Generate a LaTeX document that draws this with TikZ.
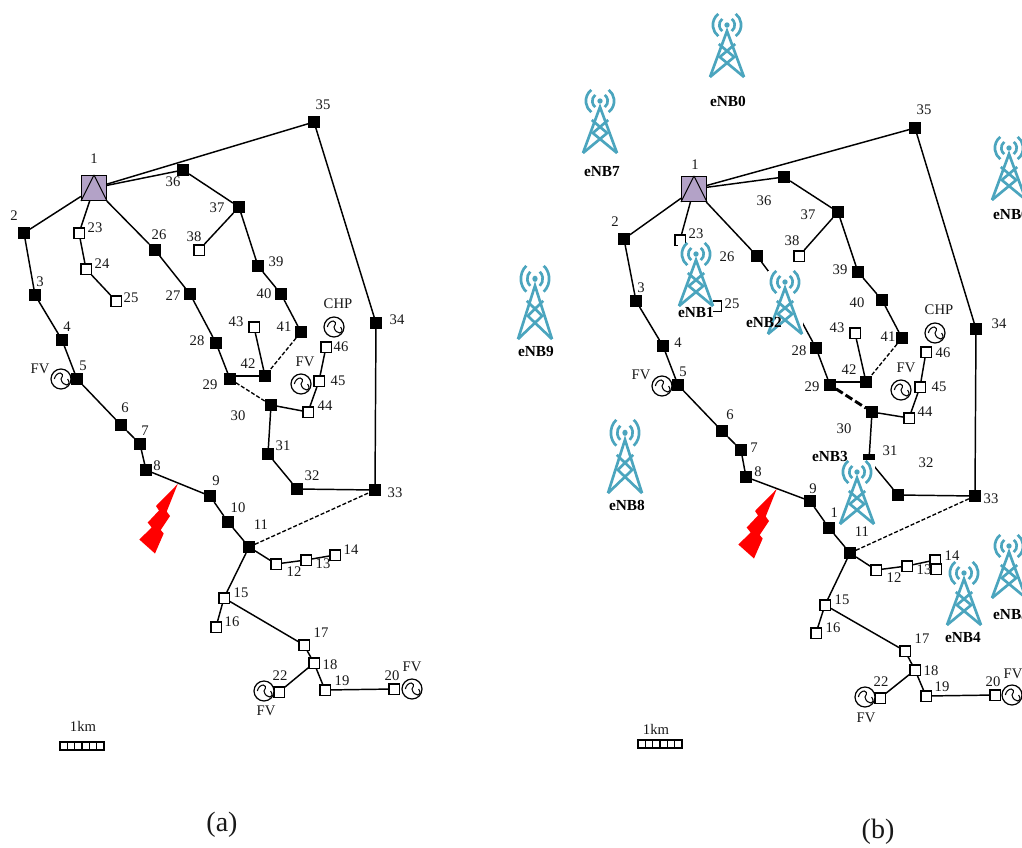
\documentclass[tikz,border=0pt]{standalone}
\usepackage{fontspec}
\setmainfont{Liberation Serif}
\definecolor{towerc}{HTML}{4BA5BE}
\definecolor{subc}{HTML}{B3A2C7}
\tikzset{
  x=0.75pt,y=-0.75pt,
  fbus/.style={rectangle,fill=black,minimum size=8.6pt,inner sep=0pt},
  obus/.style={rectangle,draw=black,line width=1.05pt,fill=white,minimum size=7.8pt,inner sep=0pt},
  subst/.style={rectangle,draw=black,line width=1.05pt,fill=subc,minimum size=18.5pt,inner sep=0pt},
  feeder/.style={line width=1.1pt,black},
  tie/.style={line width=1pt,black,dash pattern=on 3pt off 1.5pt},
  tiethick/.style={line width=2.2pt,black,dash pattern=on 6pt off 2.5pt},
  lbl/.style={inner sep=0pt,font=\fontsize{11}{12}\selectfont,text=black!90},
  enb/.style={inner sep=0pt,font=\fontsize{11.5}{12}\selectfont\bfseries,text=black},
  captxt/.style={inner sep=0pt,font=\fontsize{21}{23}\selectfont,text=black!90},
  gen/.style={circle,draw=black,line width=0.9pt,fill=white,minimum size=15pt,inner sep=0pt,
    path picture={\draw[line width=0.8pt] ([xshift=-5pt]path picture bounding box.center)
      .. controls +(1.2pt,6pt) and +(4pt,6pt) .. (path picture bounding box.center)
      .. controls +(1pt,-6pt) and +(3.8pt,-6pt) .. ([xshift=5pt]path picture bounding box.center);}},
  tower/.pic={
    \begin{scope}[towerc,line width=2pt,line join=miter]
      \fill (0,11) circle (2pt);
      \foreach \r in {5.8pt,10.6pt}{
        \draw ([shift={(-52:\r)}]0,11) arc[start angle=-52,end angle=52,radius=\r];
        \draw ([shift={(128:\r)}]0,11) arc[start angle=128,end angle=232,radius=\r];
      }
      \draw (-17,63) -- (0,17) -- (17,63);
      \draw (-17,63) -- (7.2,43) -- (-8.2,30) (17,63) -- (-7.2,43) -- (8.2,30);
    \end{scope}
  }
}
\newcommand{\feedernet}[1]{%
  \foreach \u/\v in {1/2,2/3,3/4,4/5,5/6,6/7,7/8,8/9,9/10,10/11,11/12,12/13,13/14,11/15,15/16,15/17,17/18,18/19,19/20,18/22,1/23,23/24,24/25,1/26,26/27,27/28,28/29,42/43,1/36,36/37,37/38,37/39,39/40,40/41,1/35,35/34,34/33,33/32,32/31,31/30,30/44,44/45,45/46}
    \draw[feeder] (#1\u) -- (#1\v);
  \draw[feeder] (#142) -- (#142 -| #129);
  \draw[tie] (#141) -- (#142);
  \draw[tie] (#111) -- (#133);
  \draw[black,line width=0.8pt] (#11.north) -- (#11.south west) (#11.north) -- (#11.south east);
}
\newcommand{\bolt}{%
  \fill[red] (177.7,484) -- (156,506) -- (159,510.5) -- (147.7,522.5) -- (151.7,527.5) -- (139.3,539.5) -- (155,553.5) -- (163.7,533.5) -- (160.7,530) -- (170,516) -- (166.7,511.5) -- cycle;
}
\newcommand{\scalebar}{%
  \draw[black,line width=0.85pt] (0,0) rectangle (44,8);
  \foreach \k in {1,...,5} \draw[black,line width=0.85pt] (\k*7.33,0) -- (\k*7.33,8);
}
\begin{document}
\begin{tikzpicture}
\clip (0,0) rectangle (1022,847);
\fill[white] (0,0) rectangle (1022,847);
% ---------- panel (a)
\foreach \n/\x/\y in {2/24/233,3/35/295,4/62/340,5/77/379,6/121/425,7/140/444,8/146/470,9/210/496,10/228/522,11/249/547,26/155/250,27/190/294,28/216/343,29/230/379,30/271/405,31/268/454,32/297/489,33/375/490,34/376/323,35/314/122,36/183/170,37/239/207,39/258/266,40/281/294,41/301/332,42/265/376}
  \node[fbus] (a\n) at (\x,\y) {};
\foreach \n/\x/\y in {12/276/564,13/306/560,14/335/555,15/224/598,16/216/627,17/304/645,18/314/663,19/325/690,20/394/689,22/279/692,23/79/233,24/86/269,25/116/301,38/199/250,43/254/327,44/308/412,45/319/381,46/326/347}
  \node[obus] (a\n) at (\x,\y) {};
\node[subst] (a1) at (94,188) {};
\feedernet{a}
\draw[tie] (a29) -- (a30);
\foreach \x/\y [count=\i] in {61/379,334/327,301/384,264/691,412/689}
  \node[gen] (ag\i) at (\x,\y) {};
\foreach \t/\x/\y [count=\i] in {1/94/159,35/323/105,36/173/182,37/217/208,38/194/237,39/276/262,40/264/294,41/284/327,CHP/338/304,46/341/347,FV/305/362,45/338/381,44/325/406,43/236/322,42/248/364,34/397/320,2/14/216,23/95/228,24/102/264,25/131/298,26/159/235,27/173/296,28/197/341,29/210/385,30/238/416,3/40/282,4/67/327,5/83/366,FV/40/369,6/125/408,7/145/431,8/157/466,9/216/481,10/238/508,11/261/525,31/283/446,32/312/476,33/395/493,14/351/550,13/323/564,12/294/572,15/241/593,16/232/622,17/321/633,18/330/665,19/342/681,20/392/676,FV/412/667,22/280/676,FV/266/711,1km/83/726}
  \node[lbl] (al\i) at (\x,\y) {\t};
\bolt
\begin{scope}[shift={(60,742)}]\scalebar\end{scope}
\node[captxt] (capa) at (222,825) {(a)};
% ---------- panel (b)
\foreach \n/\x/\y in {2/624/239,3/636/301,4/663/346,5/678/385,6/722/431,7/741/450,8/746/477,9/810/501,10/829/528,11/850/553,26/757/256,27/790/300,28/816/348,29/830/385,30/872/412,31/869/460,32/898/495,33/975/496,34/976/329,35/915/128,36/784/177,37/838/212,39/858/272,40/882/300,41/902/338,42/866/382}
  \node[fbus] (b\n) at (\x,\y) {};
\foreach \n/\x/\y in {12/876/570,13/907/566,14/935/560,15/825/605,16/816/633,17/905/651,18/915/670,19/926/696,20/995/695,22/880/698,23/680/240,24/686/275,25/716/306,38/799/256,43/855/333,44/909/418,45/920/387,46/926/352}
  \node[obus] (b\n) at (\x,\y) {};
\node[subst] (b1) at (694,189) {};
\feedernet{b}
\draw[tiethick] (b29) -- (b30);
\foreach \x/\y [count=\i] in {662/386,935/333,901/390,865/697,1012/695}
  \node[gen] (bg\i) at (\x,\y) {};
\foreach \t/\x/\y [count=\i] in {1/695/165,35/924/110,36/764/201,37/808/215,38/792/241,39/840/270,40/857/303,43/837/328,41/888/337,CHP/939/310,46/943/353,FV/906/368,45/939/387,44/925/412,42/849/370,28/799/351,29/812/387,30/844/429,31/890/451,32/926/463,33/991/499,34/999/324,2/615/222,3/641/288,23/696/234,25/732/304,26/727/257,4/678/343,5/683/372,FV/641/375,6/730/415,7/754/448,8/758/472,9/813/489,10/838/513,11/862/532,14/952/556,13/924/570,12/894/578,15/842/600,16/833/628,17/922/639,18/931/671,19/942/687,20/993/682,FV/1013/674,22/881/682,FV/866/718,1km/656/729}
  \node[lbl] (bl\i) at (\x,\y) {\t};
\node[obus] (b14x) at (936,569) {};
\begin{scope}[shift={(599,5)}]\bolt\end{scope}
\begin{scope}[shift={(638,740)}]\scalebar\end{scope}
\node[captxt] (capb) at (878,832) {(b)};
% tower image backgrounds hide part of the network
\fill[white] (678,245) rectangle (713,318);
\fill[white] (768,271) rectangle (803,335);
\fill[white] (838,460) rectangle (875,526);
% towers
\pic at (727,14) {tower};
\pic at (600,90) {tower};
\pic at (1009,137) {tower};
\pic at (696,243) {tower};
\pic at (785,271) {tower};
\pic at (857,461) {tower};
\pic at (964,562) {tower};
\pic at (1009,535) {tower};
\pic[yscale=1.16] at (535,266) {tower};
\pic[yscale=1.16] at (625,420) {tower};
\foreach \t/\x/\y [count=\i] in {eNB0/728/101,eNB7/602/172,eNB6/1011/214,eNB9/536/351,eNB8/627/505,eNB1/696/313,eNB2/764/322,eNB3/830/456,eNB4/963/638,eNB5/1011/615}
  \node[enb] (en\i) at (\x,\y) {\t};
\end{tikzpicture}
\end{document}
